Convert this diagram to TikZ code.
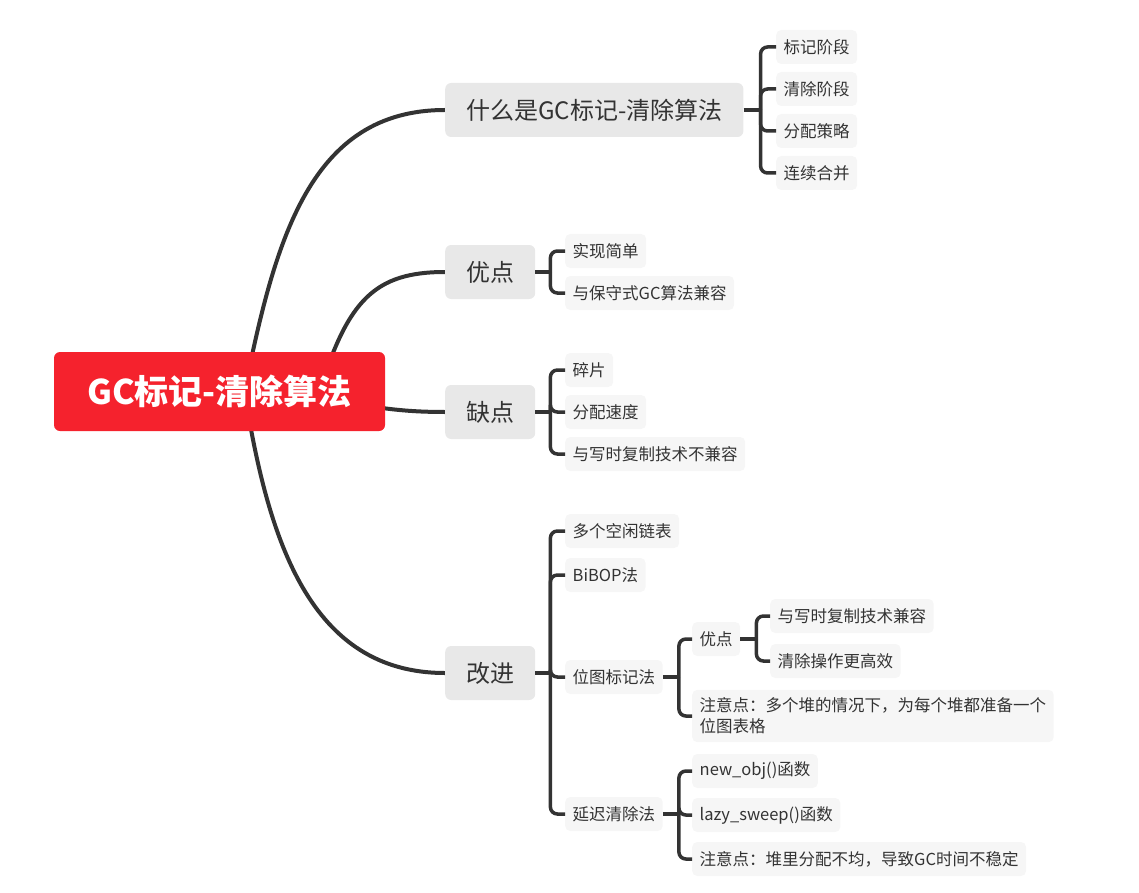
\documentclass[tikz,border=0pt]{standalone}
\usepackage{fontspec}
\setmainfont{Noto Sans CJK SC}
\usepackage{tikz}
\usetikzlibrary{backgrounds}

\definecolor{rootred}{RGB}{245,34,45}
\definecolor{topicgray}{RGB}{232,232,232}
\definecolor{subgray}{RGB}{246,246,246}
\definecolor{linegray}{RGB}{51,51,51}

\begin{document}
\begin{tikzpicture}[x=1pt, y=-1pt,
  root/.style={fill=rootred, text=white, rounded corners=6pt, minimum width=331pt,
    minimum height=79pt, font=\fontsize{34}{40}\selectfont\bfseries},
  topic/.style={fill=topicgray, text=linegray, rounded corners=6pt, anchor=west,
    inner xsep=21pt, minimum height=54pt, font=\fontsize{24}{29}\selectfont},
  sub/.style={fill=subgray, text=linegray, rounded corners=5pt, anchor=west,
    inner xsep=7.5pt, minimum height=34pt, font=\fontsize{16.5}{21}\selectfont},
  trunk/.style={draw=linegray, line width=4pt},
  bracket/.style={draw=linegray, line width=3.5pt, rounded corners=7pt}]

\useasboundingbox (0,0) rectangle (1139,893);

\node[root] (root) at (219.5,391.5) {GC标记-清除算法};

\node[topic] (whatis) at (445,110) {什么是GC标记-清除算法};
\node[topic] (pros) at (445,272) {优点};
\node[topic] (cons) at (445,412) {缺点};
\node[topic] (improve) at (445,673) {改进};

\node[sub] (mark) at (776,47) {标记阶段};
\node[sub] (sweep) at (776,89) {清除阶段};
\node[sub] (alloc) at (776,131) {分配策略};
\node[sub] (coalesce) at (776,173) {连续合并};

\node[sub] (simple) at (565,251) {实现简单};
\node[sub] (conservative) at (565,293) {与保守式GC算法兼容};

\node[sub] (frag) at (565,370) {碎片};
\node[sub] (speed) at (565,412) {分配速度};
\node[sub] (cow) at (565,454) {与写时复制技术不兼容};

\node[sub] (freelists) at (565,531) {多个空闲链表};
\node[sub] (bibop) at (565,575) {BiBOP法};
\node[sub] (bitmap) at (565,677) {位图标记法};
\node[sub] (lazy) at (565,814) {延迟清除法};

\node[sub] (bmpros) at (692,639) {优点};
\node[sub, align=left, inner ysep=8pt] (bmnote) at (692,716)
  {注意点：多个堆的情况下，为每个堆都准备一个\\位图表格};
\node[sub] (bmcow) at (770,616) {与写时复制技术兼容};
\node[sub] (bmfast) at (770,661) {清除操作更高效};

\node[sub] (newobj) at (692,771) {new\_obj()函数};
\node[sub] (lazysweep) at (692,815) {lazy\_sweep()函数};
\node[sub] (lazynote) at (692,859) {注意点：堆里分配不均，导致GC时间不稳定};

\begin{scope}[on background layer]
\draw[trunk] ([xshift=25pt]root.center) .. controls (275,240) and (310,110) .. (whatis.west);
\draw[trunk] ([xshift=100pt]root.center) .. controls (348,300) and (375,272) .. (pros.west);
\draw[trunk] ([xshift=80pt]root.center) .. controls (360,405) and (390,412) .. (cons.west);
\draw[trunk] ([xshift=25pt]root.center) .. controls (268,540) and (310,673) .. (improve.west);
\end{scope}

\draw[bracket] (whatis.east) -- ++(17,0) coordinate (whatisfork);
\foreach \c in {mark,sweep,alloc,coalesce}
  \draw[bracket] (whatisfork) |- (\c.west);

\draw[bracket] (pros.east) -- ++(15,0) coordinate (prosfork);
\foreach \c in {simple,conservative}
  \draw[bracket] (prosfork) |- (\c.west);

\draw[bracket] (cons.east) -- ++(15,0) coordinate (consfork);
\foreach \c in {frag,speed,cow}
  \draw[bracket] (consfork) |- (\c.west);

\draw[bracket] (improve.east) -- ++(15,0) coordinate (improvefork);
\foreach \c in {freelists,bibop,bitmap,lazy}
  \draw[bracket] (improvefork) |- (\c.west);

\draw[bracket] (bitmap.east) -- ++(16,0) coordinate (bitmapfork);
\foreach \c in {bmpros,bmnote}
  \draw[bracket] (bitmapfork) |- (\c.west);

\draw[bracket] (bmpros.east) -- ++(16,0) coordinate (bmprosfork);
\foreach \c in {bmcow,bmfast}
  \draw[bracket] (bmprosfork) |- (\c.west);

\draw[bracket] (lazy.east) -- ++(16,0) coordinate (lazyfork);
\foreach \c in {newobj,lazysweep,lazynote}
  \draw[bracket] (lazyfork) |- (\c.west);

\end{tikzpicture}
\end{document}
